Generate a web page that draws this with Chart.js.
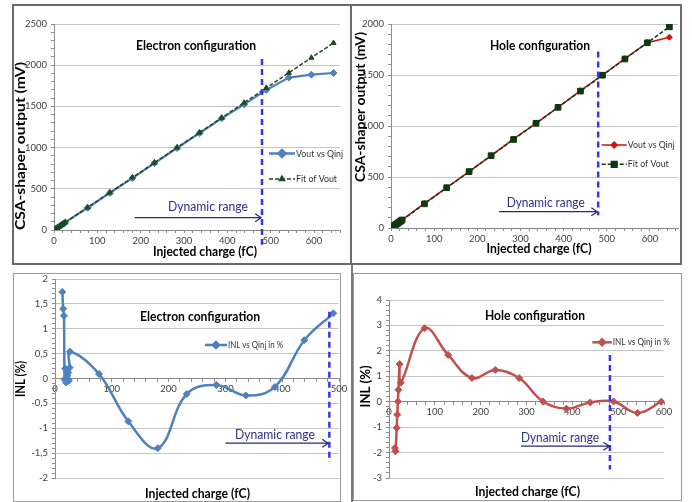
<!DOCTYPE html>
<html>
<head>
<meta charset="utf-8">
<script src="https://cdn.jsdelivr.net/npm/chart.js@4.4.1/dist/chart.umd.min.js"></script>
<style>
  body { margin: 0; background: #fff; }
  #page { position: relative; width: 692px; height: 502px; overflow: hidden; background: #fff; }
  canvas { position: absolute; }
  .frame { position: absolute; box-sizing: border-box; }
</style>
</head>
<body>
<div id="page">
  <div class="frame" style="left:12px;top:4px;width:670px;height:261px;border:2px solid #6a6a6a"></div>
  <div class="frame" style="left:350px;top:4px;width:2px;height:261px;background:#6a6a6a"></div>
  <div class="frame" style="left:351px;top:265px;width:1.5px;height:237px;background:#7a7a7a"></div>
  <div class="frame" style="left:13px;top:273px;width:328px;height:229px;border:1px solid #9a9a9a"></div>
  <div class="frame" style="left:353px;top:273px;width:329px;height:228px;border:1px solid #9a9a9a"></div>
  <canvas id="voutE"></canvas>
  <canvas id="voutH"></canvas>
  <canvas id="inlE"></canvas>
  <canvas id="inlH"></canvas>
</div>
<script>
// injected charge (fC) of the scan points
const qInj = [2.6, 5.2, 7.7, 10.3, 12.9, 15.5, 18.1, 20.6, 23.2, 25.8,
  77.5, 129, 181, 232, 284, 336, 387, 439, 490, 542, 594, 645];

// electron configuration, CSA-shaper output (mV)
const voutE = [9, 18, 27, 37, 46, 55, 64, 73, 82, 92,
  270, 450, 630, 812, 995, 1175, 1355, 1525, 1700, 1850, 1885, 1905];
const fitE = [9, 18, 27, 36, 45, 55, 64, 73, 82, 91,
  273, 454, 637, 817, 1000, 1183, 1362, 1545, 1725, 1908, 2091, 2270];

// hole configuration, CSA-shaper output (mV)
const voutH = [8, 16, 24, 32, 40, 47, 55, 63, 71, 79,
  242, 395, 552, 709, 873, 1026, 1183, 1346, 1500, 1660, 1817, 1870];
const fitH = [8, 16, 24, 32, 39, 47, 55, 63, 71, 79,
  237, 395, 553, 709, 868, 1027, 1183, 1342, 1498, 1657, 1816, 1972];

// INL (%) vs injected charge
const qInlE = [12.9, 14.4, 15.8, 16.8, 18.1, 19.4, 20.6, 21.9, 23.2, 24.5, 25.8, 26.4,
  77.5, 129, 181, 232, 284, 336, 387, 439, 490];
const inlE = [1.74, 1.40, 1.26, -0.02, 0.20, -0.08, 0.05, -0.06, 0.12, -0.04, 0.22, 0.54,
  0.09, -0.86, -1.40, -0.31, -0.13, -0.34, -0.17, 0.77, 1.31];
const qInlH = [12.9, 14.2, 16.8, 18.1, 19.4, 20.6, 23.2, 25.8,
  77.5, 129, 181, 232, 284, 336, 387, 439, 490, 542, 594];
const inlH = [-1.82, -1.95, -1.03, -0.51, 0.01, 0.47, 1.48, 0.75,
  2.89, 1.84, 0.93, 1.25, 0.93, 0.01, -0.27, -0.03, 0.01, -0.44, 0.0];

// axis ticks
const ticksQ = [0, 100, 200, 300, 400, 500, 600];
const ticksVoutE = [0, 500, 1000, 1500, 2000, 2500];
const ticksVoutH = [0, 500, 1000, 1500, 2000];
const ticksInlE = [-2, -1.5, -1, -0.5, 0, 0.5, 1, 1.5, 2];
const ticksInlH = [-3, -2, -1, 0, 1, 2, 3, 4];

// end of the dynamic range (fC)
const dynRange = [480, 480, 483, 482];

const M = { l: 50, t: 22, r: 25, b: 40 };
const FONT = 'Lato';

function pts(xs, ys) { return xs.map((x, i) => ({ x: x, y: ys[i] })); }
function near(a, b) { return Math.abs(a - b) < 1e-6; }
function isMajor(v, list) { return list.some(t => near(t, v)); }
function withMinor(min, max, step) {
  const out = [];
  for (let v = min; v <= max + 1e-9; v += step) out.push(Math.round(v * 1000) / 1000);
  return out;
}
function fmt(v) { return String(v).replace('.', ','); }

function xAxis(max, minorStep, pos) {
  return {
    type: 'linear', min: 0, max: max, position: pos || 'bottom',
    afterFit: s => { s.height = M.b; },
    afterBuildTicks: s => { s.ticks = withMinor(0, max, minorStep).map(v => ({ value: v })); },
    grid: { drawOnChartArea: false, tickLength: 3, tickColor: '#8c8c8c' },
    border: { color: '#8c8c8c', width: 1 },
    ticks: {
      autoSkip: false, maxRotation: 0, padding: 2, color: '#404040',
      font: { family: FONT, size: 9.5 },
      callback: v => isMajor(v, ticksQ) ? fmt(v) : ''
    }
  };
}

function yAxis(min, max, major, minorStep) {
  return {
    type: 'linear', min: min, max: max,
    afterFit: s => { s.width = M.l; },
    afterBuildTicks: s => { s.ticks = withMinor(min, max, minorStep).map(v => ({ value: v })); },
    grid: {
      color: c => isMajor(c.tick.value, major) ? '#c4c4c4' : 'rgba(0,0,0,0)',
      tickColor: '#8c8c8c', tickLength: 3
    },
    border: { color: '#8c8c8c', width: 1 },
    ticks: {
      autoSkip: false, padding: 4, color: '#404040',
      font: { family: FONT, size: 9.5 },
      callback: v => isMajor(v, major) ? fmt(v) : ''
    }
  };
}

function drawText(ctx, t, ox, oy) {
  ctx.save();
  ctx.font = (t.bold ? 'bold ' : '') + t.size + 'px ' + FONT;
  ctx.fillStyle = t.color || '#000';
  ctx.textAlign = t.align || 'center';
  ctx.textBaseline = 'middle';
  ctx.translate(t.x - ox, t.y - oy);
  if (t.rot) ctx.rotate(t.rot);
  if (t.w) ctx.scale(t.w / ctx.measureText(t.t).width, 1);
  ctx.fillText(t.t, 0, 0);
  ctx.restore();
}

const overlay = {
  id: 'overlay',
  afterDatasetsDraw(chart, args, o) {
    const ctx = chart.ctx, sx = chart.scales.x, sy = chart.scales.y;
    const X = v => sx.getPixelForValue(v), Y = v => sy.getPixelForValue(v);
    const ox = o.origin[0], oy = o.origin[1];
    const r = o.range;
    ctx.save();
    ctx.strokeStyle = '#3535f2';
    ctx.lineWidth = 2.5;
    ctx.setLineDash([6, 4]);
    ctx.beginPath();
    ctx.moveTo(X(r.x), Y(r.y0));
    ctx.lineTo(X(r.x), Y(r.y1));
    ctx.stroke();
    ctx.setLineDash([]);
    const a1 = X(r.a1), ay = Y(r.ay);
    ctx.strokeStyle = '#2a2a7c';
    ctx.lineWidth = 1.2;
    ctx.beginPath();
    ctx.moveTo(X(r.a0), ay);
    ctx.lineTo(a1, ay);
    ctx.moveTo(a1 - 6, ay - 4);
    ctx.lineTo(a1, ay);
    ctx.lineTo(a1 - 6, ay + 4);
    ctx.stroke();
    o.texts.forEach(t => drawText(ctx, t, ox, oy));
    o.legend.forEach(l => {
      const x = l.x - ox, y = l.y - oy;
      ctx.save();
      ctx.strokeStyle = l.color;
      ctx.fillStyle = l.color;
      ctx.lineWidth = l.lw;
      ctx.setLineDash(l.dash || []);
      ctx.beginPath();
      ctx.moveTo(x, y);
      ctx.lineTo(x + l.len, y);
      ctx.stroke();
      ctx.setLineDash([]);
      Chart.helpers.drawPoint(ctx, { pointStyle: l.style, radius: l.r, rotation: 0, borderWidth: 1 }, x + l.len / 2, y);
      ctx.restore();
      drawText(ctx, { t: l.text, x: l.x + l.len + 1, y: l.y, w: l.tw, size: 9.5, align: 'left', color: '#333' }, ox, oy);
    });
    ctx.restore();
  }
};

// floating: x axis crosses at y = 0, so it takes no layout room
function makeChart(id, area, datasets, scales, notes, floating) {
  const cv = document.getElementById(id);
  const left = area.left - M.l, top = area.top - M.t;
  cv.width = area.right - area.left + M.l + M.r;
  cv.height = area.bottom - area.top + M.t + M.b;
  cv.style.left = left + 'px';
  cv.style.top = top + 'px';
  notes.origin = [left, top];
  return new Chart(cv.getContext('2d'), {
    type: 'scatter',
    data: { datasets: datasets },
    options: {
      responsive: false, animation: false, devicePixelRatio: 1,
      layout: { padding: { left: 0, top: M.t, right: M.r, bottom: floating ? M.b : 0 } },
      scales: scales,
      plugins: { legend: { display: false }, tooltip: { enabled: false }, overlay: notes }
    },
    plugins: [overlay]
  });
}

const ROT = -Math.PI / 2;

makeChart('voutE', { left: 54, right: 340, top: 24, bottom: 230 }, [
  { data: pts(qInj, voutE), showLine: true, borderColor: '#4f81bd', backgroundColor: '#4f81bd',
    borderWidth: 2.2, pointStyle: 'rectRot', pointRadius: 3.5, pointBorderWidth: 1, order: 1 },
  { data: pts(qInj, fitE), showLine: true, borderColor: '#1c4b1c', backgroundColor: '#1c4b1c',
    borderWidth: 1.5, borderDash: [4, 2], pointStyle: 'triangle', pointRadius: 3, pointBorderWidth: 1, order: 0 }
], { x: xAxis(660, 20), y: yAxis(0, 2500, ticksVoutE, 100) }, {
  range: { x: dynRange[0], y0: 2075, y1: -180, a0: 186, a1: 478, ay: 150 },
  texts: [
    { t: 'Electron configuration', x: 196, y: 45.5, w: 120, size: 12.5, bold: true },
    { t: 'Dynamic range', x: 208, y: 207, w: 80, size: 12.5, color: '#2e2e92' },
    { t: 'CSA-shaper output (mV)', x: 20, y: 146, w: 168, size: 14, bold: true, rot: ROT },
    { t: 'Injected charge (fC)', x: 205, y: 251.5, w: 104, size: 13, bold: true }
  ],
  legend: [
    { x: 269, y: 153.5, len: 26, text: 'Vout vs Qinj', tw: 47, color: '#4f81bd', lw: 2.5, style: 'rectRot', r: 3.5 },
    { x: 269, y: 179, len: 26, text: 'Fit of Vout', tw: 41, color: '#1c4b1c', lw: 1.5, dash: [4, 2], style: 'triangle', r: 3 }
  ]
});

makeChart('voutH', { left: 391, right: 678, top: 24, bottom: 228 }, [
  { data: pts(qInj, voutH), showLine: true, borderColor: '#cc1111', backgroundColor: '#cc1111',
    borderWidth: 1.5, pointStyle: 'rectRot', pointRadius: 3, pointBorderWidth: 1, order: 1 },
  { data: pts(qInj, fitH), showLine: true, borderColor: '#0e3a0e', backgroundColor: '#0e3a0e',
    borderWidth: 1.5, borderDash: [4, 2], pointStyle: 'rect', pointRadius: 4, pointBorderWidth: 1, order: 0 }
], { x: xAxis(665, 20), y: yAxis(0, 2000, ticksVoutH, 100) }, {
  range: { x: dynRange[1], y0: 1730, y1: 125, a0: 250, a1: 478, ay: 160 },
  texts: [
    { t: 'Hole configuration', x: 540, y: 45.5, w: 100, size: 12.5, bold: true },
    { t: 'Dynamic range', x: 545.7, y: 203.3, w: 78, size: 12.5, color: '#2e2e92' },
    { t: 'CSA-shaper output (mV)', x: 360, y: 107, w: 150, size: 14, bold: true, rot: ROT },
    { t: 'Injected charge (fC)', x: 539, y: 249.3, w: 105, size: 13, bold: true }
  ],
  legend: [
    { x: 601.7, y: 145, len: 25, text: 'Vout vs Qinj', tw: 47, color: '#cc1111', lw: 1.5, style: 'rectRot', r: 3 },
    { x: 601.7, y: 164.3, len: 25, text: 'Fit of Vout', tw: 41, color: '#0e3a0e', lw: 1.5, dash: [4, 2], style: 'rect', r: 4 }
  ]
});

makeChart('inlE', { left: 55, right: 339, top: 279, bottom: 478 }, [
  { data: pts(qInlE, inlE), showLine: true, borderColor: '#4f81bd', backgroundColor: '#4f81bd',
    borderWidth: 2.5, tension: 0.4, pointStyle: 'rectRot', pointRadius: 3.5, pointBorderWidth: 1 }
], { x: xAxis(500, 20, { y: 0 }), y: yAxis(-2, 2, ticksInlE, 0.1) }, {
  range: { x: dynRange[2], y0: 1.34, y1: -1.68, a0: 300, a1: 481, ay: -1.3 },
  texts: [
    { t: 'Electron configuration', x: 200, y: 316.7, w: 120, size: 12.5, bold: true },
    { t: 'Dynamic range', x: 275, y: 435, w: 80, size: 12.5, color: '#2e2e92' },
    { t: 'INL (%)', x: 20, y: 379, w: 36, size: 14, bold: true, rot: ROT },
    { t: 'Injected charge (fC)', x: 197.5, y: 494, w: 105, size: 13, bold: true }
  ],
  legend: [
    { x: 205, y: 345, len: 22, text: 'INL vs Qinj in %', tw: 55, color: '#4f81bd', lw: 2.5, style: 'rectRot', r: 3 }
  ]
}, true);

makeChart('inlH', { left: 389, right: 664, top: 300, bottom: 478 }, [
  { data: pts(qInlH, inlH), showLine: true, borderColor: '#c0504d', backgroundColor: '#c0504d',
    borderWidth: 2.5, tension: 0.4, pointStyle: 'rectRot', pointRadius: 3.5, pointBorderWidth: 1 }
], { x: xAxis(600, 20, { y: 0 }), y: yAxis(-3, 4, ticksInlH, 0.2) }, {
  range: { x: dynRange[3], y0: 1.84, y1: -2.67, a0: 288, a1: 481, ay: -1.75 },
  texts: [
    { t: 'Hole configuration', x: 535, y: 315.7, w: 100, size: 12.5, bold: true },
    { t: 'Dynamic range', x: 560, y: 437.7, w: 78, size: 12.5, color: '#2e2e92' },
    { t: 'INL (%)', x: 365, y: 386.5, w: 42, size: 14, bold: true, rot: ROT },
    { t: 'Injected charge (fC)', x: 527.5, y: 492.3, w: 105, size: 13, bold: true }
  ],
  legend: [
    { x: 592.3, y: 342.3, len: 19.5, text: 'INL vs Qinj in %', tw: 57, color: '#c0504d', lw: 2.5, style: 'rectRot', r: 3 }
  ]
}, true);
</script>
</body>
</html>
